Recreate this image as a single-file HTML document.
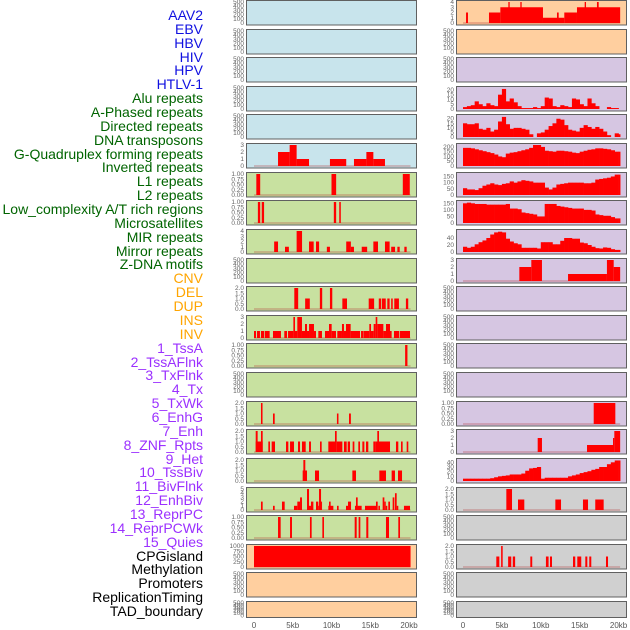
<!DOCTYPE html>
<html><head><meta charset="utf-8"><style>
body{margin:0;background:#fff;}
#c{position:relative;width:630px;height:630px;overflow:hidden;font-family:"Liberation Sans",sans-serif;}
.lab{position:absolute;right:427px;font-size:14px;line-height:14px;white-space:nowrap;}
</style></head><body>
<div id="c">
<svg id="s" width="630" height="630" style="position:absolute;left:0;top:0"></svg>
</div>
<script>
const labels=["AAV2","EBV","HBV","HIV","HPV","HTLV-1","Alu repeats","A-Phased repeats","Directed repeats","DNA transposons","G-Quadruplex forming repeats","Inverted repeats","L1 repeats","L2 repeats","Low_complexity A/T rich regions","Microsatellites","MIR repeats","Mirror repeats","Z-DNA motifs","CNV","DEL","DUP","INS","INV","1_TssA","2_TssAFlnk","3_TxFlnk","4_Tx","5_TxWk","6_EnhG","7_Enh","8_ZNF_Rpts","9_Het","10_TssBiv","11_BivFlnk","12_EnhBiv","13_ReprPC","14_ReprPCWk","15_Quies","CPGisland","Methylation","Promoters","ReplicationTiming","TAD_boundary"];
const labelGroups=[6,13,5,15,5];
const groupColors=["#1010e0","#006400","#ffa500","#9b30ff","#000000"];
const xTicks=[0,5,10,15,20];
const xTickLabels=["0","5kb","10kb","15kb","20kb"];
const emptyTicks=[0,100,200,300,400,500];
// left column segment data [startKb,endKb,value]
const L6=[[3.1,4.6,2],[4.6,5.5,3],[5.5,7.1,1],[9.8,11.9,1],[12.9,14.5,1],[14.5,15.4,2],[15.4,16.9,1]];
const L7=[[0.3,0.8,1],[10.0,10.6,1],[19.2,20.1,1]];
const L8=[[0.5,0.8,1],[1.0,1.3,1],[10.3,10.6,1],[11.0,11.2,1]];
const L9=[[2.6,3.1,2],[4.0,4.5,1],[5.5,6.2,4],[7.1,7.7,2],[8.0,8.4,2],[9.4,9.8,1],[11.9,12.5,2],[12.5,12.9,1],[13.9,14.6,1],[15.4,16.0,2],[16.9,17.5,2],[17.7,18.2,1],[18.5,18.8,1],[19.4,19.7,1]];
const L11=[[5.2,5.7,2],[6.6,7.2,1],[8.5,8.8,2],[9.8,10.1,2],[11.4,12.0,1],[14.8,15.5,1],[16.1,16.4,1],[16.5,17.0,1],[17.2,17.5,1],[17.7,17.9,1],[18.1,18.7,1],[19.6,19.9,1]];
const L12=[[0,0.26,1],[0.39,0.77,1],[0.9,1.29,1],[1.38,2.02,1],[2.45,3.48,1],[3.91,4.26,1],[4.39,5.08,1],[5.08,5.29,3],[5.29,5.59,1],[5.59,6.19,3],[6.19,6.58,1],[6.58,6.84,2],[6.84,7.1,1],[7.1,7.74,2],[7.74,8.0,1],[8.3,8.77,1],[9.16,9.68,1],[9.68,10.02,2],[10.02,10.58,1],[10.75,11.35,1],[11.35,11.61,2],[11.61,11.87,1],[11.87,12.47,2],[12.47,13.68,1],[13.81,14.11,1],[14.15,14.88,1],[14.88,15.1,2],[15.1,15.44,1],[15.44,15.7,2],[15.7,15.91,3],[15.91,16.69,2],[16.69,17.03,1],[17.03,17.55,2],[17.55,17.76,1],[18.06,18.75,1],[18.84,20.13,1]];
const L13=[[19.5,19.8,1]];
const L15=[[0.9,1.1,2],[2.45,2.67,1],[10.7,10.9,1],[12.26,12.5,1]];
const L16=[[0.22,1.12,1],[0.22,0.47,2],[0.9,1.12,2],[1.85,2.06,1],[2.28,2.71,1],[4.13,4.43,1],[4.65,5.16,1],[5.68,5.94,1],[6.19,6.67,1],[7.1,7.35,1],[8.52,8.73,1],[9.59,10.45,1],[10.45,10.67,2],[10.67,11.4,1],[11.61,11.96,1],[12.09,12.39,1],[12.73,12.95,1],[13.46,13.68,1],[13.98,14.24,1],[14.45,14.75,1],[15.4,15.7,1],[15.7,17.55,1],[15.91,16.13,2],[18.32,18.62,1],[18.97,19.18,1],[19.7,19.91,1]];
const L17=[[6.28,6.84,1],[6.37,6.62,2],[7.87,8.39,1],[12.69,13.16,1],[16.17,17.03,1],[17.76,18.19,1],[18.58,19.1,1]];
const L18=[[0.9,1.12,2],[2.45,2.67,1],[3.61,3.96,2],[5.16,5.59,1],[5.59,5.94,2],[5.94,6.19,3],[6.84,7.1,5],[7.1,7.35,1],[7.35,7.66,2],[8.0,8.3,2],[8.3,8.39,1],[8.39,8.65,5],[8.65,8.77,2],[9.59,10.24,1],[9.68,9.89,2],[10.71,10.92,1],[11.87,12.13,1],[12.13,12.52,2],[13.03,13.89,1],[13.16,13.38,3],[14.32,15.83,1],[15.74,15.96,2],[16.05,16.25,1],[16.6,16.82,3],[16.82,17.0,2],[17.0,17.2,1],[17.33,17.55,2],[17.89,18.11,3],[18.19,18.41,4],[18.41,18.62,1],[19.35,20.13,1]];
const L19=[[3.1,3.44,1],[4.65,4.9,1],[7.22,7.44,1],[8.82,9.03,1],[12.99,13.25,1],[13.5,13.72,1],[14.49,14.75,1],[17.03,17.42,1],[18.62,18.84,1]];
const L20=[[0,20.2,1000]];
// right column data
const R1=[[0.39,0.64,2],[3.34,4.8,2],[4.8,10.28,3],[5.83,6.0,4],[7.37,7.54,4],[10.28,13.02,1],[12.08,12.3,2],[13.02,14.65,2],[14.65,20.2,3],[15.64,15.81,4],[17.22,17.44,4]];
const R4=[2,3,4,8,5,3,6,4,3,15,21,8,11,7,3,1,1,1,2,1,3,12,11,3,2,4,3,2,11,10,5,3,11,6,3,0,0,2,1,1,0];
const R5=[15,14,14,15,9,8,10,6,8,17,22,14,9,10,10,9,8,3,0,4,5,8,12,15,20,19,13,8,7,6,10,13,11,9,11,9,6,2,0,4,3];
const R6=[190,190,185,175,165,155,145,135,120,100,92,130,140,145,155,165,175,190,220,220,200,160,155,150,160,160,155,150,140,135,150,160,170,175,185,185,180,175,165,150,150];
const R7=[55,45,45,40,55,75,85,95,85,80,90,95,110,100,110,120,115,110,100,100,100,60,45,60,85,90,95,100,100,100,100,95,95,100,125,130,135,140,150,165,165];
const R8=[150,155,150,145,145,145,140,140,140,140,140,145,110,110,105,80,75,70,65,50,50,145,145,145,130,125,120,115,110,110,110,100,100,95,65,60,55,55,45,35,35];
const R9=[15,12,15,22,28,33,40,50,56,58,56,38,30,25,22,12,12,12,12,10,28,28,28,22,22,32,40,40,38,38,27,25,20,15,11,10,13,12,8,6,6];
const R10=[[7.24,8.78,2],[8.78,10.15,3],[13.5,18.5,1],[18.5,19.37,3],[19.37,20.2,2]];
const R15=[[16.8,19.58,1]];
const R16=[[9.6,10.15,2],[15.94,19.28,1],[19.28,19.45,2],[19.45,20.2,3]];
const R17=[5,5,5,5,5,5,5,6,8,10,11,12,14,14,14,16,22,27,28,30,5,7,7,7,7,7,7,10,12,14,17,19,21,24,26,30,30,36,40,44,44];
const R18=[[5.57,6.3,2],[7.07,7.88,1],[11.87,12.6,1],[15.42,16.07,1],[17.0,18.08,1]];
const R20=[[4.28,4.67,1],[4.9,5.1,2],[5.8,6.2,1],[6.4,6.7,1],[8.65,8.9,1],[10.66,11.0,1],[11.18,11.44,1],[14.14,14.43,1],[14.69,15.2,1],[15.72,15.98,1],[16.23,16.49,1],[18.38,18.64,1]];

const BL="#c8e4ec",GR="#c8e1a0",PE="#ffcf9f",PU="#d6c6e2",GY="#d0d0d0";
const t1=[0,0.25,0.5,0.75,1],t1l=["0.00","0.25","0.50","0.75","1.00"];
const t2=[0,0.5,1,1.5,2],t2l=["0.0","0.5","1.0","1.5","2.0"];
const leftCols=[BL,BL,BL,BL,BL,BL,GR,GR,GR,GR,GR,GR,GR,GR,GR,GR,GR,GR,GR,PE,PE,PE];
const rightCols=[PE,PE,PU,PU,PU,PU,PU,PU,PU,PU,PU,PU,PU,PU,PU,PU,PU,GY,GY,GY,GY,GY];
const leftSpec={5:[L6,3,[0,1,2,3]],6:[L7,1,t1,t1l],7:[L8,1,t1,t1l],8:[L9,4,[0,1,2,3,4]],10:[L11,2,t2,t2l],11:[L12,3,[0,1,2,3]],12:[L13,1,t1,t1l],14:[L15,2,t2,t2l],15:[L16,2,t2,t2l],16:[L17,2,t2,t2l],17:[L18,5,[0,1,2,3,4,5]],18:[L19,1,t1,t1l],19:[L20,1000,[0,250,500,750,1000]]};
const rightSpec={0:[R1,4,[0,1,2,3,4]],3:[R4,22,[0,5,10,15,20],null,1],4:[R5,23,[0,5,10,15,20],null,1],5:[R6,220,[0,50,100,150,200],null,1],6:[R7,170,[0,50,100,150],null,1],7:[R8,160,[0,50,100,150],null,1],8:[R9,60,[0,20,40],null,1],9:[R10,3,[0,1,2,3]],14:[R15,1,t1,t1l],15:[R16,3,[0,1,2,3]],16:[R17,45,[0,10,20,30,40],null,1],17:[R18,2,t2,t2l],19:[R20,2,t2,t2l]};

const NS="http://www.w3.org/2000/svg";
const svg=document.getElementById('s');
function mk(tag,at,parent){const e=document.createElementNS(NS,tag);for(const k in at)e.setAttribute(k,at[k]);(parent||svg).appendChild(e);return e;}

// labels
const c=document.getElementById('c');
let gi=0,gc=0;
labels.forEach((t,i)=>{
  const d=document.createElement('div');d.className='lab';
  
  
  d.style.top=(8+i*13.86)+'px';d.style.color=groupColors[gi];d.textContent=t;c.appendChild(d);
  gc++;if(gc>=labelGroups[gi]){gi++;gc=0;}
});

const cols=[{x0:246,x1:416,z:254,k:7.75,tx:244,bg:leftCols,spec:leftSpec,name:'left'},{x0:456,x1:626,z:463,k:7.78,tx:454,bg:rightCols,spec:rightSpec,name:'right'}];
cols.forEach(col=>{
  for(let r=0;r<22;r++){
    const top=Math.round(r*28.62)+0.5, h=(r==21?16:24.5);
    const g=mk('g',{});
    
    
    mk('rect',{x:col.x0+0.5,y:top,width:col.x1-col.x0,height:h,fill:col.bg[r],stroke:'#606060','stroke-width':1},g);
    const sp=col.spec[r];
    const yMax=sp?sp[1]:500, ticks=sp?sp[2]:emptyTicks, tl=sp&&sp[3]?sp[3]:ticks.map(String);
    const y0=top+h-2, y1=top+1.5;
    const ys=v=>y0-v/yMax*(y0-y1);
    const xs=kb=>col.z+kb*col.k;
    ticks.forEach((v,i)=>{
      const t=mk('text',{x:col.tx,y:ys(v)+2,'font-size':6.5,fill:'#666','text-anchor':'end'},g);
      
      
      t.textContent=tl[i];
    });
    if(sp){
      const data=sp[0];
      if(sp[4]){
        data.forEach((v,i)=>{
          const a=Math.max(-0.1,i*0.5),b=Math.min(20.2,(i+1)*0.5);
          const rr=mk('rect',{x:xs(a),y:ys(v),width:xs(b)-xs(a)+0.3,height:y0-ys(v),fill:'#ff0000'},g);
          
          
        });
      } else {
        mk('line',{x1:xs(0),x2:xs(20.2),y1:y0,y2:y0,stroke:'#b03030','stroke-width':1,opacity:0.5},g);
        data.forEach(s=>{
          const rr=mk('rect',{x:xs(s[0]),y:ys(s[2]),width:Math.max(1,xs(s[1])-xs(s[0])),height:y0-ys(s[2]),fill:'#ff0000'},g);
          
          
        });
      }
    }
  }
  xTicks.forEach((v,i)=>{
    const t=mk('text',{x:col.z+v*col.k,y:628,'font-size':8,fill:'#555','text-anchor':'middle'});
    
    
    t.textContent=xTickLabels[i];
  });
});
</script>
</body></html>
